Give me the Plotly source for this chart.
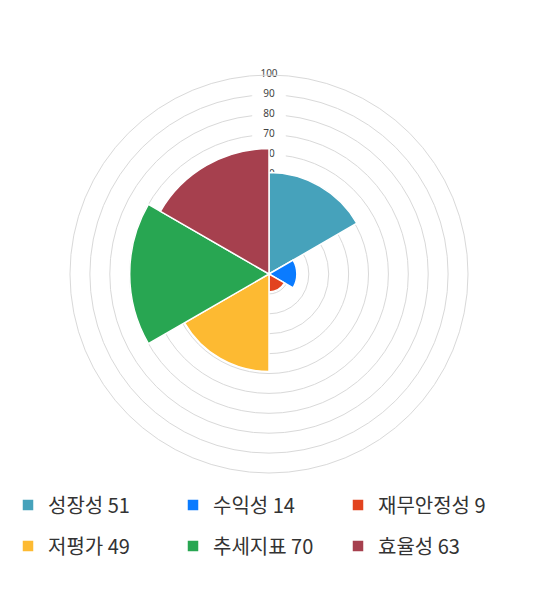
import plotly.graph_objects as go

# 항목별 점수
categories = ["성장성", "수익성", "재무안정성", "저평가", "추세지표", "효율성"]
scores = [51, 14, 9, 49, 70, 63]
colors = ["#46A2BB", "#0A7BFF", "#E2431F", "#FDBA32", "#28A652", "#A6404E"]

# 반지름 눈금
ticks = [10, 20, 30, 40, 50, 60, 70, 80, 90, 100]

fig = go.Figure()

# 눈금 라벨은 아래쪽 polar 에 두고, 막대는 위쪽 polar2 에 그려서 라벨을 덮게 함
fig.add_trace(go.Scatterpolar(
    r=ticks, theta=[0] * len(ticks),
    mode="markers+text",
    text=[str(t) for t in ticks],
    textposition="middle center",
    textfont=dict(family="Noto Sans", size=10, color="#444"),
    marker=dict(symbol="line-ew", size=24, color="white",
                line=dict(color="white", width=11)),
    hoverinfo="skip", showlegend=False, subplot="polar",
))

for i, (cat, val, col) in enumerate(zip(categories, scores, colors)):
    fig.add_trace(go.Barpolar(
        r=[val], theta=[30 + 60 * i], width=[60],
        name=f"{cat} {val}",
        marker=dict(color=col, line=dict(color="white", width=1.5)),
        subplot="polar2",
        legend="legend" if i < 3 else "legend2",
    ))

dom = dict(x=[0.1165, 0.8647], y=[0.2010, 0.8849])
hidden_radial = dict(range=[0, 100], showticklabels=False, ticks="", showline=False,
                     showgrid=False)
hidden_angular = dict(rotation=90, direction="clockwise", showticklabels=False,
                      ticks="", showgrid=False, showline=False)

legend_style = dict(orientation="h", x=0, xanchor="left", yanchor="middle",
                    entrywidth=120, font=dict(size=20, color="#333"),
                    bgcolor="rgba(0,0,0,0)")

fig.update_layout(
    width=532, height=582,
    paper_bgcolor="white",
    margin=dict(l=0, r=0, t=0, b=0),
    font=dict(family="Noto Sans CJK KR", color="#333"),
    polar=dict(
        domain=dom,
        bgcolor="white",
        radialaxis=dict(range=[0, 100], tickvals=ticks, showticklabels=False,
                        ticks="", showline=False, gridcolor="#d9d9d9", gridwidth=1),
        angularaxis=dict(rotation=90, direction="clockwise", showticklabels=False,
                         ticks="", showgrid=False, showline=True,
                         linecolor="#d9d9d9", linewidth=1),
    ),
    polar2=dict(
        domain=dom,
        bgcolor="rgba(0,0,0,0)",
        bargap=0,
        radialaxis=hidden_radial,
        angularaxis=hidden_angular,
    ),
    legend=dict(legend_style, y=(582 - 497) / 582),
    legend2=dict(legend_style, y=(582 - 538) / 582),
)

fig.write_html("out.html")
